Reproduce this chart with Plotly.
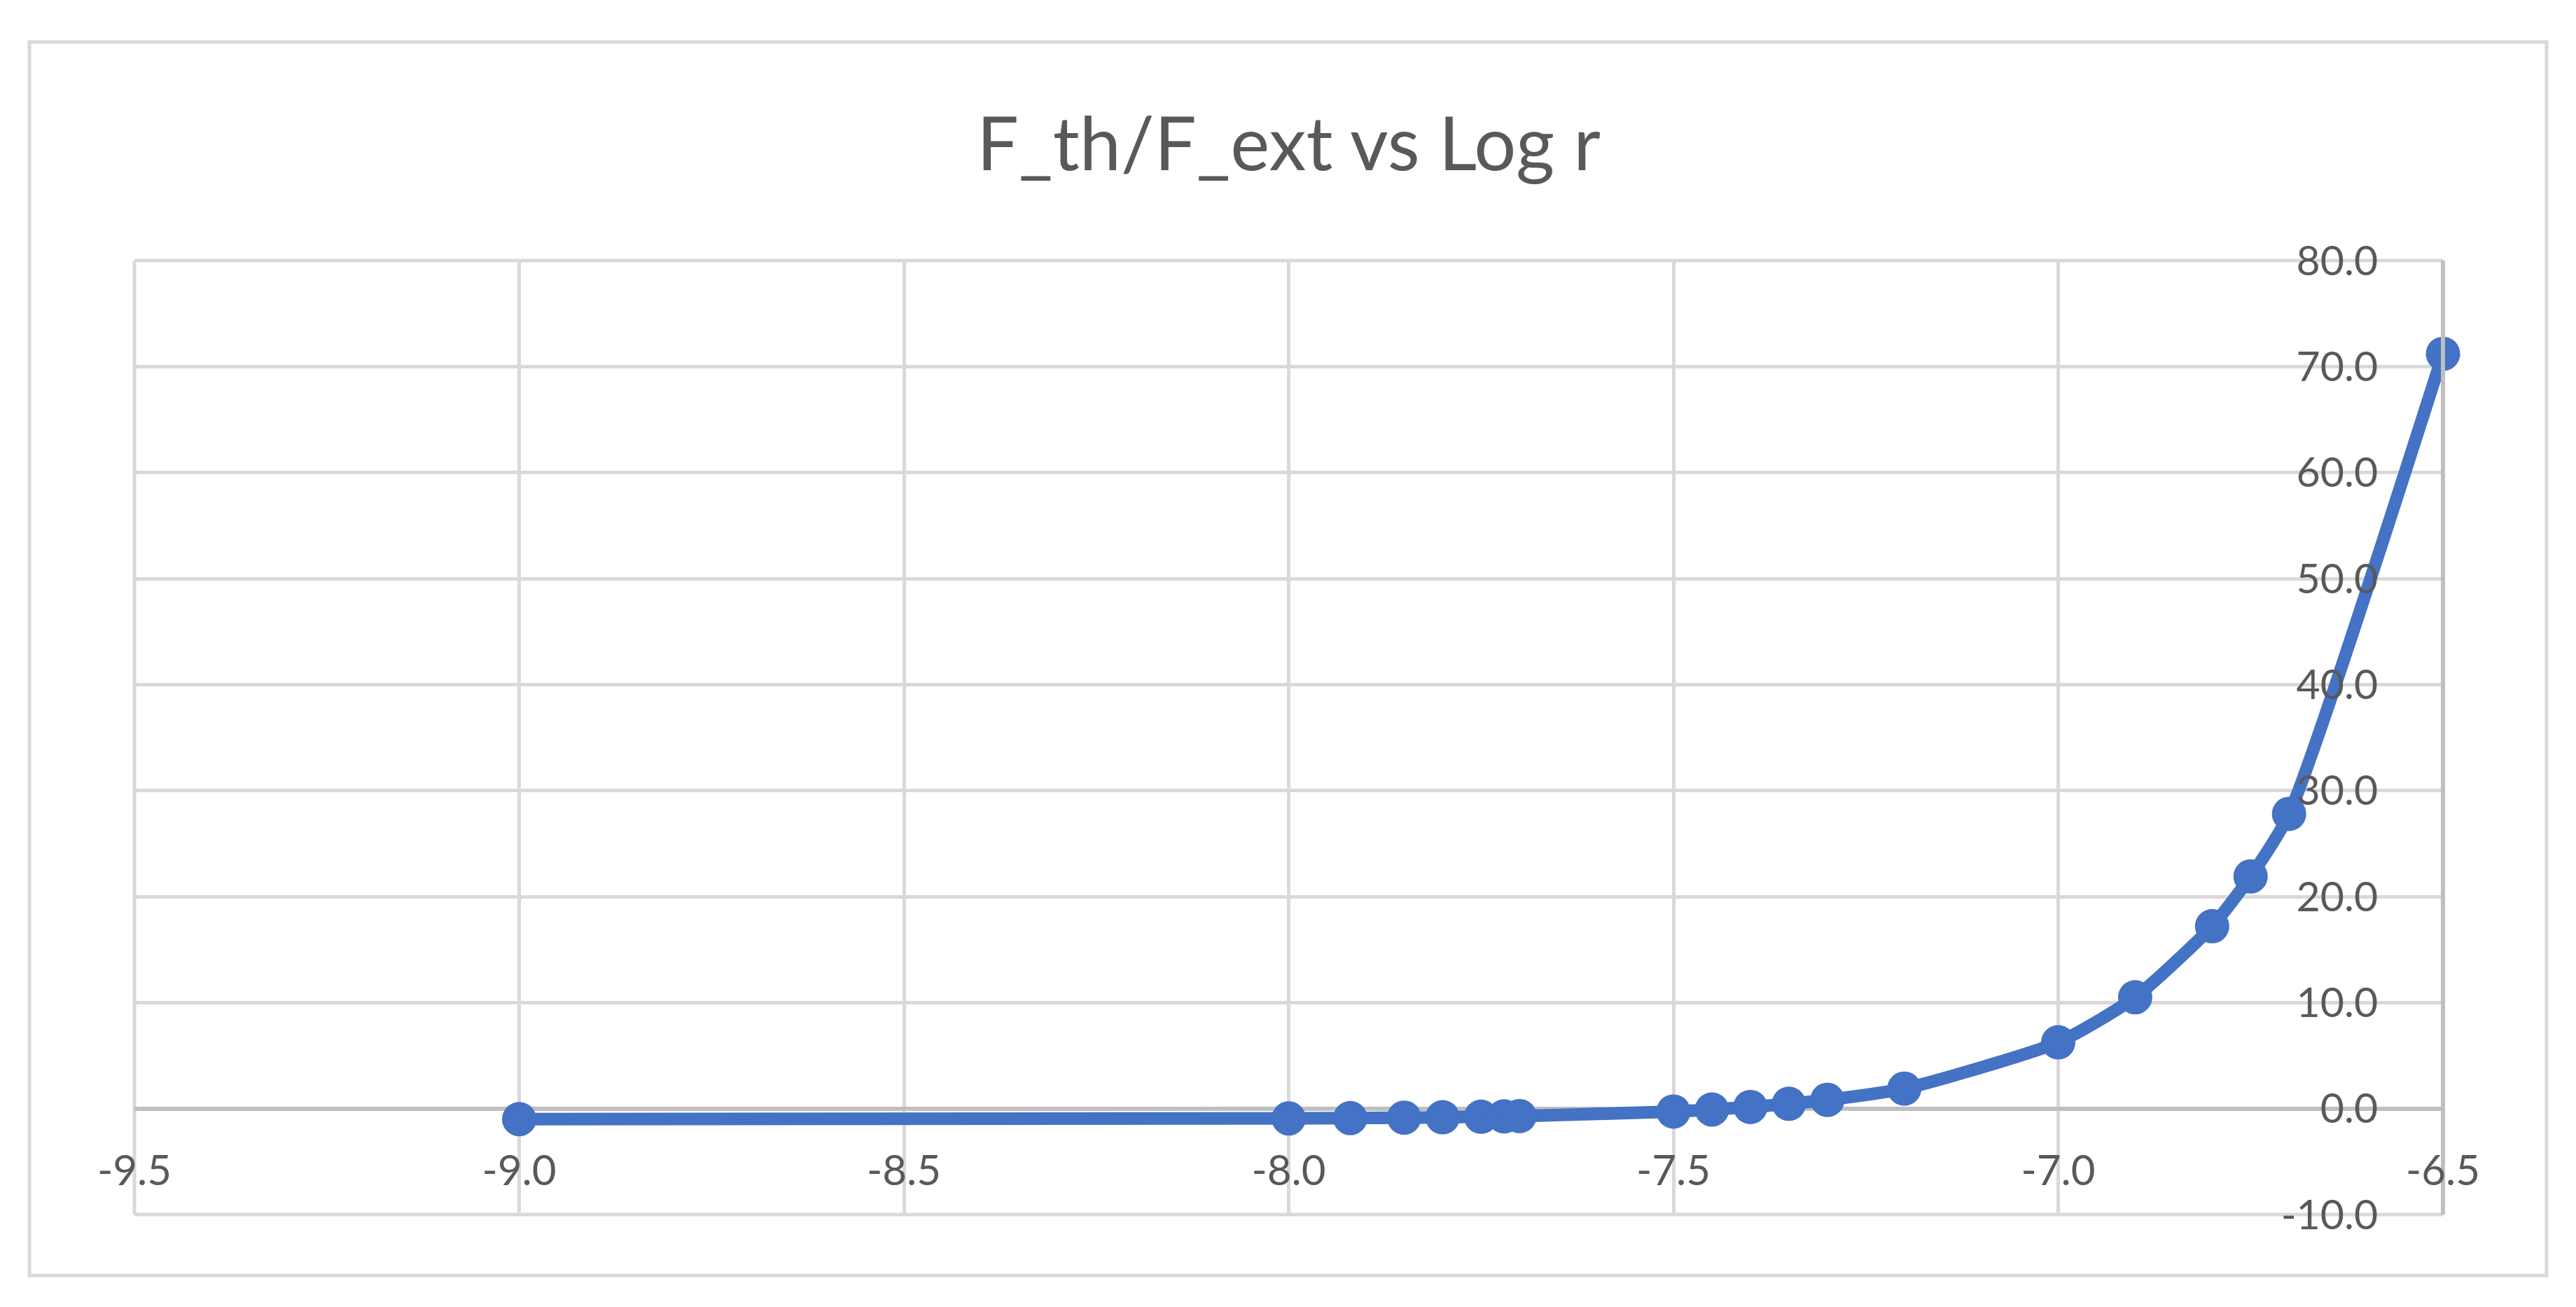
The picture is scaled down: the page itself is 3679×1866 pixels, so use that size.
import plotly.graph_objects as go

# Data
log_r = [-9.0, -8.0, -7.92, -7.85, -7.8, -7.75, -7.72, -7.7, -7.5, -7.45,
         -7.4, -7.35, -7.3, -7.2, -7.0, -6.9, -6.8, -6.75, -6.7, -6.5]
ratio = [-1.0, -0.93, -0.90, -0.86, -0.82, -0.77, -0.74, -0.71, -0.28, -0.09,
         0.15, 0.45, 0.82, 1.88, 6.25, 10.5, 17.2, 21.9, 27.8, 71.2]

x_ticks = [-9.5, -9.0, -8.5, -8.0, -7.5, -7.0, -6.5]
y_ticks = [-10, 0, 10, 20, 30, 40, 50, 60, 70, 80]
x_range = [-9.5, -6.5]
y_range = [-10, 80]
x_cross_y = 0  # horizontal axis crosses at y = 0

W, H = 3679, 1866
L, R, T, B = 192, 3489, 372, 1734

TEXT = "#595959"
GRID = "#d9d9d9"
AXIS = "#bfbfbf"
BLUE = "#4472C4"
FONT = "Lato"

fig = go.Figure()
fig.add_trace(go.Scatter(
    x=log_r, y=ratio, mode="lines+markers",
    line=dict(color=BLUE, width=18, shape="spline", smoothing=0.6),
    marker=dict(color=BLUE, size=49),
    showlegend=False, cliponaxis=False,
))

pw = R - L
ph = B - T
# outer chart border
fig.add_shape(type="rect", xref="paper", yref="paper",
              x0=(42 - L) / pw, x1=(3637 - L) / pw,
              y0=(B - 1821) / ph, y1=(B - 60) / ph,
              line=dict(color=GRID, width=5), fillcolor="rgba(0,0,0,0)", layer="below")
# plot-area edge gridlines (plotly omits gridlines at range ends)
for x0, y0, x1, y1 in [(0, 0, 1, 0), (0, 1, 1, 1), (0, 0, 0, 1)]:
    fig.add_shape(type="line", xref="paper", yref="paper", x0=x0, y0=y0, x1=x1, y1=y1,
                  line=dict(color=GRID, width=5), layer="below")

fig.update_layout(
    width=W, height=H, autosize=False,
    margin=dict(l=L, r=W - R, t=T, b=H - B, pad=0),
    paper_bgcolor="white", plot_bgcolor="white",
    font=dict(family=FONT, color=TEXT, size=58),
    title=dict(text="F_th/F_ext vs Log r", x=0.5, xref="paper", xanchor="center",
               y=1 - 206 / H, yref="container", yanchor="middle",
               font=dict(family=FONT, size=106, color=TEXT)),
    xaxis=dict(range=x_range, tickvals=x_ticks,
               ticktext=[f"{v:.1f}" for v in x_ticks],
               anchor="free",
               position=(x_cross_y - y_range[0]) / (y_range[1] - y_range[0]),
               side="bottom",
               showgrid=True, gridcolor=GRID, gridwidth=5,
               zeroline=False, showline=False, ticks="",
               ticklabelstandoff=48,
               tickfont=dict(size=60, color=TEXT)),
    yaxis=dict(range=y_range, tickvals=y_ticks,
               ticktext=[f"{v:.1f}" for v in y_ticks],
               anchor="free", position=1, side="left",
               showgrid=True, gridcolor=GRID, gridwidth=5,
               zeroline=True, zerolinecolor=AXIS, zerolinewidth=6,
               showline=True, linecolor=AXIS, linewidth=6,
               ticks="", ticklabelstandoff=78,
               tickfont=dict(size=59, color=TEXT)),
)

fig.write_html("out.html", config={"displayModeBar": False},
               post_script="document.body.style.margin='0';document.body.style.overflow='hidden';")
